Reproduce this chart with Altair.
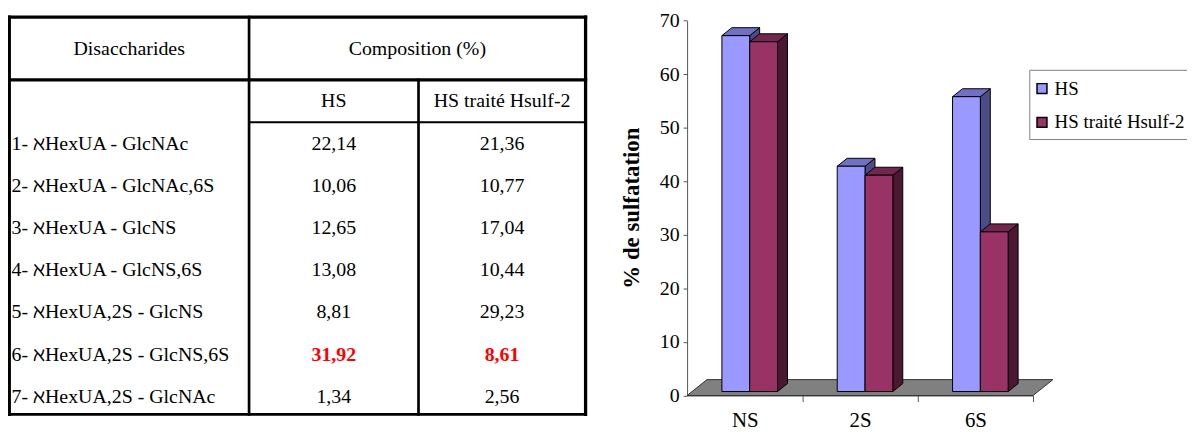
import altair as alt
import pandas as pd

# ---------------- data ----------------
row_labels = [
    "1- ℵHexUA - GlcNAc",
    "2- ℵHexUA - GlcNAc,6S",
    "3- ℵHexUA - GlcNS",
    "4- ℵHexUA - GlcNS,6S",
    "5- ℵHexUA,2S - GlcNS",
    "6- ℵHexUA,2S - GlcNS,6S",
    "7- ℵHexUA,2S - GlcNAc",
]
comp_hs = [22.14, 10.06, 12.65, 13.08, 8.81, 31.92, 1.34]
comp_treated = [21.36, 10.77, 17.04, 10.44, 29.23, 8.61, 2.56]
highlight_row = 5
col_headers = ["Disaccharides", "Composition (%)"]
series = ["HS", "HS traité Hsulf-2"]
categories = ["NS", "2S", "6S"]
sulf_hs = [66.46, 42.07, 55.06]
sulf_treated = [65.32, 40.40, 29.82]
y_ticks = [0, 10, 20, 30, 40, 50, 60, 70]
y_title = "% de sulfatation"

# ---------------- styles / layout ----------------
FONT = "Liberation Serif"
front_colors = ["#9999FF", "#993366"]
top_colors = ["#7171C4", "#74274E"]
side_colors = ["#4D4D85", "#4A1832"]
floor_color = "#808080"
AXIS_COLOR = "#555555"

W, H = 1187, 424          # whole view (page minus 8px margin)
PX = alt.Scale(domain=[8, 8 + W], range=[0, W], nice=False, zero=False)
PY = alt.Scale(domain=[8, 8 + H], range=[0, H], nice=False, zero=False)

# table layout (page px)
T_L, T_R, T_T, T_B = 9.3, 589.5, 15.7, 415.7
C1, C2 = 250.7, 421.3
H1, H2 = 79.0, 121.7
HEAD_Y, SUB_Y = 47.7, 100.5
ROW0, ROWH = 143.5, 42.4
TXT_X = 11.5
TFS = 20

# chart layout (page px)
AX_L, AX_R = 691.7, 1040.0
AX_Y0, AX_YTOP = 396.7, 19.3
FLOOR_DX, FLOOR_DY = 20.0, 16.0
BAR_DX, BAR_DY = 10.0, 8.0
BAR_W = 28.0

CX = alt.Scale(domain=[0, len(categories)], range=[AX_L - 8, AX_R - 8], nice=False, zero=False)
CY = alt.Scale(domain=[0, y_ticks[-1]], range=[AX_Y0 - 8, AX_YTOP - 8], nice=False, zero=False)


def fmt(v):
    return f"{v:.2f}".replace(".", ",")


# ---------------- table ----------------
def ptext(df, align="center", bold=False, size=TFS, color="black", angle=0):
    return alt.Chart(df).mark_text(
        align=align, baseline="middle", font=FONT, fontSize=size,
        fontWeight="bold" if bold else "normal", color=color, angle=angle
    ).encode(
        x=alt.X("x:Q", scale=PX, axis=None),
        y=alt.Y("y:Q", scale=PY, axis=None),
        text="t:N",
    )


hdr = pd.DataFrame([
    dict(x=(T_L + C1) / 2, y=HEAD_Y, t=col_headers[0]),
    dict(x=(C1 + T_R) / 2, y=HEAD_Y, t=col_headers[1]),
    dict(x=(C1 + C2) / 2, y=SUB_Y, t=series[0]),
    dict(x=(C2 + T_R) / 2, y=SUB_Y, t=series[1]),
])
rows = pd.DataFrame([dict(x=TXT_X, y=ROW0 + k * ROWH, t=lab) for k, lab in enumerate(row_labels)])
vals_n, vals_b = [], []
for k in range(len(row_labels)):
    tgt = vals_b if k == highlight_row else vals_n
    tgt.append(dict(x=(C1 + C2) / 2, y=ROW0 + k * ROWH, t=fmt(comp_hs[k])))
    tgt.append(dict(x=(C2 + T_R) / 2, y=ROW0 + k * ROWH, t=fmt(comp_treated[k])))

lines = pd.DataFrame([
    dict(x=T_L, x2=T_R, y=T_T, y2=T_T, w=3.3),
    dict(x=T_L, x2=T_R, y=T_B, y2=T_B, w=3.0),
    dict(x=T_L, x2=T_L, y=T_T, y2=T_B, w=3.3),
    dict(x=T_R, x2=T_R, y=T_T, y2=T_B, w=3.3),
    dict(x=T_L, x2=T_R, y=H1, y2=H1, w=3.3),
    dict(x=C1, x2=C1, y=T_T, y2=T_B, w=2.7),
    dict(x=C2, x2=C2, y=H1, y2=T_B, w=2.7),
    dict(x=C1, x2=T_R, y=H2, y2=H2, w=2.0),
])
rules = alt.Chart(lines).mark_rule(color="black", strokeCap="square").encode(
    x=alt.X("x:Q", scale=PX, axis=None), x2="x2:Q",
    y=alt.Y("y:Q", scale=PY, axis=None), y2="y2:Q",
    strokeWidth=alt.StrokeWidth("w:Q", scale=None),
)

# legend (manual) and y title
LG_L, LG_T, LG_B = 1036.7, 69.3, 139.0
SW_X, SW = 1044.0, 10.0
LG_Y = [87.7, 121.7]
box = alt.Chart(pd.DataFrame([dict(x=LG_L, x2=1215, y=LG_T, y2=LG_B)])).mark_rect(
    fill="white", stroke="#808080", strokeWidth=1
).encode(x=alt.X("x:Q", scale=PX, axis=None), x2="x2:Q",
         y=alt.Y("y:Q", scale=PY, axis=None), y2="y2:Q")
sw = alt.Chart(pd.DataFrame([
    dict(x=SW_X, x2=SW_X + SW, y=LG_Y[i] - SW / 2, y2=LG_Y[i] + SW / 2, f=front_colors[i])
    for i in range(len(series))
])).mark_rect(stroke="black", strokeWidth=1.5).encode(
    x=alt.X("x:Q", scale=PX, axis=None), x2="x2:Q",
    y=alt.Y("y:Q", scale=PY, axis=None), y2="y2:Q",
    fill=alt.Fill("f:N", scale=None),
)
lg_text = ptext(pd.DataFrame([dict(x=1061.7, y=LG_Y[i], t=series[i]) for i in range(len(series))]),
                align="left", size=19)
ytitle = ptext(pd.DataFrame([dict(x=636, y=208, t=y_title)]), bold=True, size=23, angle=270)

table_layer = alt.layer(
    rules,
    ptext(hdr),
    ptext(rows, align="left"),
    ptext(pd.DataFrame(vals_n)),
    ptext(pd.DataFrame(vals_b), bold=True, color="#FF0000"),
    box, sw, lg_text, ytitle,
)

# ---------------- 3D bar chart ----------------
ux = (AX_R - AX_L) / len(categories)
uy = (AX_Y0 - AX_YTOP) / y_ticks[-1]
bw = BAR_W / ux
bdx, bdy = BAR_DX / ux, BAR_DY / uy
fox, foy = (FLOOR_DX - BAR_DX) / 2 / ux, (FLOOR_DY - BAR_DY) / 2 / uy
fdx, fdy = FLOOR_DX / ux, FLOOR_DY / uy

fronts, tops, sides = [], [], []
for i, c in enumerate(categories):
    center = i + 0.5 + fox
    for s, vals in enumerate([sulf_hs, sulf_treated]):
        v = vals[i]
        x0 = center + (s - 1) * bw
        x1 = x0 + bw
        base, top = foy, foy + v
        bid = f"{c}-{s}"
        fronts.append(dict(x0=x0, x1=x1, y0=base, y1=top, f=front_colors[s], id=bid))
        tops.append(dict(y=top, xa=x0, xb=x1, f=top_colors[s], id=bid))
        tops.append(dict(y=top + bdy, xa=x0 + bdx, xb=x1 + bdx, f=top_colors[s], id=bid))
        sides.append(dict(x=x1, ya=top, yb=base, f=side_colors[s], id=bid))
        sides.append(dict(x=x1 + bdx, ya=top + bdy, yb=base + bdy, f=side_colors[s], id=bid))

floor = pd.DataFrame([
    dict(y=0.0, xa=0.0, xb=float(len(categories))),
    dict(y=fdy, xa=fdx, xb=len(categories) + fdx),
])

label_expr = "''"
for i in reversed(range(len(categories))):
    label_expr = f"datum.value == {i + 0.5} ? '{categories[i]}' : ({label_expr})"

AXX = alt.Axis(
    orient="bottom", offset=(AX_Y0 - 8) - H,
    values=[0.5, 1, 1.5, 2, 2.5, 3], labelExpr=label_expr,
    tickOpacity={"condition": {"test": "datum.value % 1 === 0", "value": 1}, "value": 0},
    tickSize=6, tickColor=AXIS_COLOR, domainColor=AXIS_COLOR,
    labelFont=FONT, labelFontSize=21, labelColor="black", labelPadding=8,
    labelFlush=False, labelOverlap=False, title=None, grid=False,
)
AXY = alt.Axis(
    orient="left", offset=-(AX_L - 8), values=y_ticks,
    tickSize=4, tickColor=AXIS_COLOR, domainColor=AXIS_COLOR,
    labelFont=FONT, labelFontSize=20, labelColor="black", labelPadding=4,
    title=None, grid=False,
)

floor_ch = alt.Chart(floor).mark_area(
    orient="horizontal", fill=floor_color, stroke="#333333", strokeWidth=1
).encode(
    x=alt.X("xa:Q", scale=CX, axis=AXX), x2="xb:Q",
    y=alt.Y("y:Q", scale=CY, axis=AXY),
)
side_ch = alt.Chart(pd.DataFrame(sides)).mark_area(
    orient="vertical", stroke="black", strokeWidth=1
).encode(
    x=alt.X("x:Q", scale=CX, axis=AXX),
    y=alt.Y("ya:Q", scale=CY, axis=AXY), y2="yb:Q",
    fill=alt.Fill("f:N", scale=None), detail="id:N",
)
top_ch = alt.Chart(pd.DataFrame(tops)).mark_area(
    orient="horizontal", stroke="black", strokeWidth=1
).encode(
    x=alt.X("xa:Q", scale=CX, axis=AXX), x2="xb:Q",
    y=alt.Y("y:Q", scale=CY, axis=AXY),
    fill=alt.Fill("f:N", scale=None), detail="id:N",
)
front_ch = alt.Chart(pd.DataFrame(fronts)).mark_rect(
    stroke="black", strokeWidth=1
).encode(
    x=alt.X("x0:Q", scale=CX, axis=AXX), x2="x1:Q",
    y=alt.Y("y0:Q", scale=CY, axis=AXY), y2="y1:Q",
    fill=alt.Fill("f:N", scale=None),
)

chart_layer = alt.layer(floor_ch, side_ch, top_ch, front_ch)

chart = alt.layer(table_layer, chart_layer).resolve_scale(
    x="independent", y="independent"
).properties(
    width=W, height=H, padding=0, autosize="none", background="white"
).configure_view(stroke=None)

chart.save("out.html", embed_options={"renderer": "svg", "actions": False})
